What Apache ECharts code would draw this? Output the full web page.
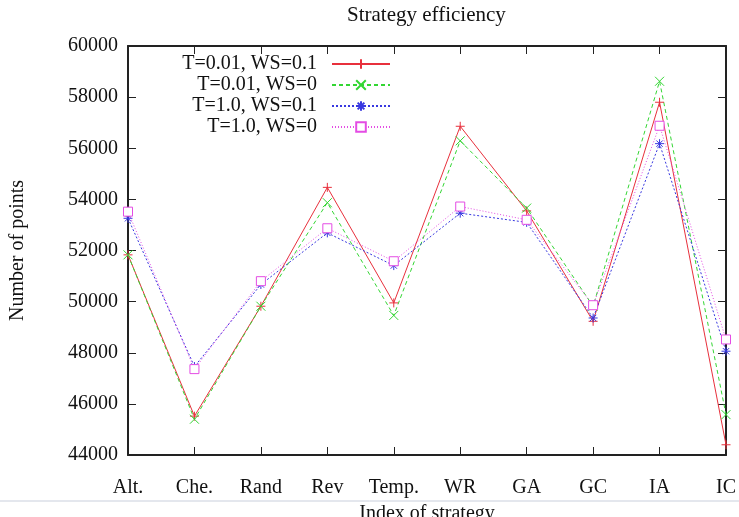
<!DOCTYPE html>
<html>
<head>
<meta charset="utf-8">
<title>Strategy efficiency</title>
<script src="https://cdn.jsdelivr.net/npm/echarts@6/dist/echarts.min.js"></script>
<style>
    html, body { margin: 0; padding: 0; background: #fff; }
    #main { width: 739px; height: 517px; }
</style>
</head>
<body>
<div id="main"></div>
<script>
var categories = ['Alt.', 'Che.', 'Rand', 'Rev', 'Temp.', 'WR', 'GA', 'GC', 'IA', 'IC'];
var seriesNames = ['T=0.01, WS=0.1', 'T=0.01, WS=0', 'T=1.0, WS=0.1', 'T=1.0, WS=0'];
var t001ws01 = [51830, 45520, 49820, 54470, 49950, 56860, 53550, 49230, 57800, 44400];
var t001ws0 = [51830, 45400, 49820, 53870, 49460, 56290, 53660, 49820, 58620, 45580];
var t10ws01 = [53260, 47460, 50670, 52690, 51410, 53460, 53100, 49360, 56180, 48060];
var t10ws0 = [53520, 47360, 50800, 52870, 51580, 53720, 53200, 49860, 56880, 48520];

var font = 'Liberation Serif';
var myChart = echarts.init(document.getElementById('main'));

// gnuplot-like point symbols
var plus = 'path://M0,5L10,5M5,0L5,10';
var cross = 'path://M0,0L10,10M0,10L10,0';
var star = 'path://M0,5L10,5M5,0L5,10M1.5,1.5L8.5,8.5M1.5,8.5L8.5,1.5';

function line(name, data, color, symbol, type, fill) {
    return {
        name: name,
        type: 'line',
        data: data,
        symbol: symbol,
        symbolSize: 9,
        showAllSymbol: true,
        lineStyle: { color: color, width: 1, type: type },
        itemStyle: { color: fill || color, borderColor: color, borderWidth: 1 },
        emphasis: { disabled: true },
        animation: false
    };
}

function legendRow(name, top) {
    return {
        data: [name],
        orient: 'vertical',
        right: 348,
        top: top,
        align: 'right',
        itemWidth: 58,
        itemHeight: 12,
        padding: 0,
        selectedMode: false,
        formatter: function (n) { return n + '  '; },
        textStyle: { fontFamily: font, fontSize: 20, color: '#111' }
    };
}

var axisLine = { show: true, lineStyle: { color: '#222', width: 2 } };
var tick = { show: true, inside: true, length: 8, lineStyle: { color: '#222', width: 1 } };

var option = {
    backgroundColor: '#fff',
    title: {
        text: 'Strategy efficiency',
        left: 347,
        top: 5,
        padding: 0,
        textStyle: { fontFamily: font, fontSize: 21, fontWeight: 'normal', color: '#111' }
    },
    legend: [
        legendRow(seriesNames[0], 54),
        legendRow(seriesNames[1], 75),
        legendRow(seriesNames[2], 96),
        legendRow(seriesNames[3], 117)
    ],
    grid: { left: 128, right: 13, top: 46, bottom: 62, outerBoundsMode: 'none', containLabel: false },
    xAxis: [
        {
            type: 'category',
            data: categories,
            boundaryGap: false,
            axisLine: axisLine,
            axisTick: tick,
            axisLabel: { fontFamily: font, fontSize: 20, color: '#111', margin: 23 },
            splitLine: { show: false },
            name: 'Index of strategy',
            nameLocation: 'middle',
            nameGap: 49,
            nameTextStyle: { fontFamily: font, fontSize: 20, color: '#111' }
        },
        {
            type: 'category',
            data: categories,
            position: 'top',
            boundaryGap: false,
            axisLine: axisLine,
            axisTick: tick,
            axisLabel: { show: false },
            splitLine: { show: false }
        }
    ],
    yAxis: [
        {
            type: 'value',
            min: 44000,
            max: 60000,
            interval: 2000,
            axisLine: axisLine,
            axisTick: tick,
            axisLabel: {
                fontFamily: font, fontSize: 20, color: '#111', margin: 10,
                formatter: function (v) { return String(v); }
            },
            splitLine: { show: false },
            name: 'Number of points',
            nameLocation: 'middle',
            nameGap: 100,
            nameTextStyle: { fontFamily: font, fontSize: 20, color: '#111' }
        },
        {
            type: 'value',
            min: 44000,
            max: 60000,
            interval: 2000,
            position: 'right',
            axisLine: axisLine,
            axisTick: tick,
            axisLabel: { show: false },
            splitLine: { show: false }
        }
    ],
    series: [
        line(seriesNames[0], t001ws01, '#e8303c', plus, 'solid'),
        line(seriesNames[1], t001ws0, '#33d633', cross, [4, 3]),
        line(seriesNames[2], t10ws01, '#3838e0', star, [2, 2]),
        line(seriesNames[3], t10ws0, '#e44ce4', 'rect', [1, 2], '#fff')
    ],
    graphic: [
        {
            type: 'line',
            shape: { x1: 0, y1: 501, x2: 739, y2: 501 },
            style: { stroke: '#c9cfdc', lineWidth: 1 },
            z: 100
        }
    ]
};
myChart.setOption(option);
</script>
</body>
</html>
